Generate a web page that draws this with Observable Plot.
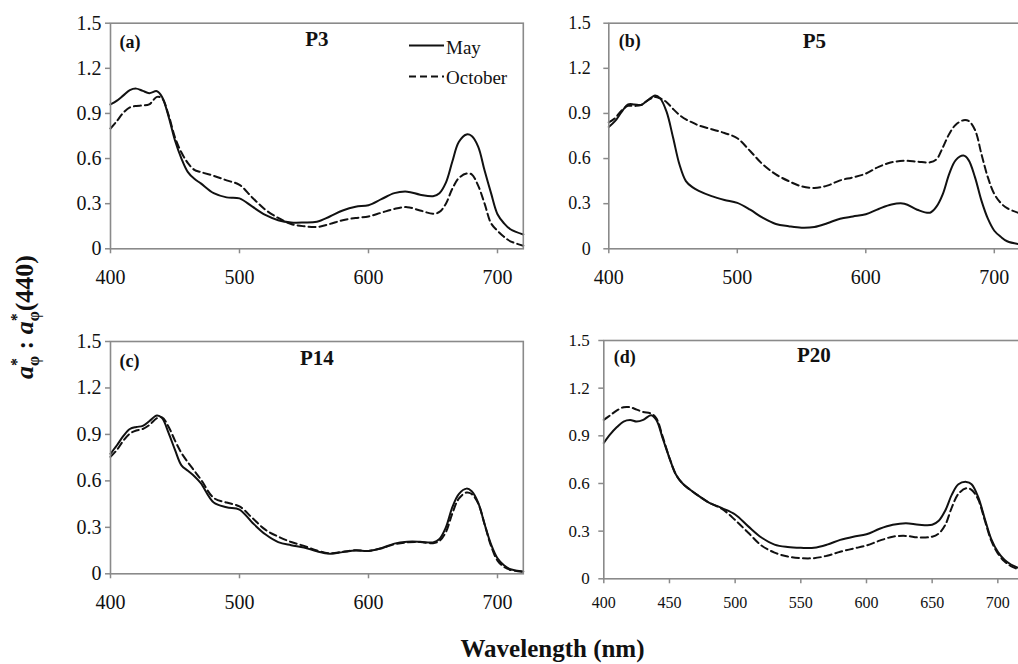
<!DOCTYPE html>
<html><head><meta charset="utf-8">
<script src="https://cdn.jsdelivr.net/npm/d3@7"></script>
<script src="https://cdn.jsdelivr.net/npm/@observablehq/plot@0.6"></script>
<style>
html,body{margin:0;padding:0;background:#fff;}
#root{position:relative;width:1018px;height:664px;overflow:hidden;background:#fff;font-family:"Liberation Serif","Times New Roman",serif;}
.panel{position:absolute;}
.panel svg, .panel svg text{font-family:"Liberation Serif","Times New Roman",serif !important;}
#overlay{position:absolute;left:0;top:0;pointer-events:none;}
</style>
</head><body>
<div id="root"></div>
<script>
// ---- data ----
const wavelength = [400,405,410,415,420,425,430,436,440,445,450,455,460,465,470,480,490,500,510,520,530,540,550,560,570,580,590,600,610,620,630,640,650,655,660,665,670,676,680,685,690,695,700,705,710,720];

const p3May = [0.96,0.985,1.02,1.055,1.065,1.05,1.035,1.048,1.01,0.88,0.72,0.60,0.51,0.465,0.435,0.37,0.342,0.335,0.28,0.225,0.19,0.175,0.175,0.18,0.215,0.255,0.28,0.29,0.33,0.37,0.38,0.36,0.35,0.37,0.44,0.58,0.71,0.76,0.75,0.68,0.52,0.37,0.23,0.17,0.13,0.095];
const p3Oct = [0.80,0.85,0.905,0.94,0.95,0.953,0.96,1.01,1.0,0.89,0.74,0.64,0.57,0.525,0.51,0.485,0.455,0.425,0.34,0.26,0.205,0.165,0.15,0.145,0.165,0.19,0.205,0.215,0.24,0.265,0.277,0.255,0.233,0.245,0.30,0.40,0.47,0.50,0.495,0.42,0.30,0.17,0.12,0.08,0.05,0.02];

const p5May = [0.81,0.85,0.91,0.96,0.96,0.957,0.985,1.02,1.0,0.91,0.74,0.56,0.45,0.41,0.385,0.35,0.325,0.305,0.26,0.205,0.165,0.15,0.14,0.145,0.17,0.20,0.215,0.23,0.265,0.295,0.30,0.26,0.24,0.28,0.365,0.50,0.59,0.62,0.59,0.475,0.32,0.20,0.12,0.08,0.05,0.03];
const p5Oct = [0.84,0.87,0.92,0.95,0.95,0.955,0.985,1.01,1.0,0.975,0.93,0.89,0.86,0.84,0.82,0.795,0.77,0.735,0.65,0.56,0.495,0.45,0.415,0.405,0.42,0.455,0.475,0.50,0.545,0.575,0.585,0.58,0.575,0.595,0.675,0.765,0.825,0.855,0.85,0.79,0.63,0.475,0.365,0.305,0.27,0.235];

const p14May = [0.775,0.83,0.89,0.935,0.948,0.955,0.985,1.022,1.005,0.91,0.80,0.70,0.665,0.63,0.585,0.46,0.43,0.415,0.33,0.255,0.205,0.185,0.17,0.145,0.13,0.14,0.15,0.148,0.165,0.195,0.207,0.207,0.203,0.225,0.30,0.43,0.515,0.55,0.533,0.46,0.32,0.19,0.10,0.055,0.03,0.015];
const p14Oct = [0.755,0.80,0.86,0.905,0.925,0.935,0.96,1.005,1.01,0.95,0.86,0.78,0.72,0.665,0.61,0.49,0.46,0.435,0.36,0.285,0.24,0.205,0.18,0.15,0.132,0.142,0.152,0.148,0.165,0.19,0.203,0.205,0.198,0.212,0.27,0.39,0.485,0.525,0.515,0.455,0.32,0.18,0.085,0.045,0.025,0.012];

const p20May = [0.855,0.91,0.955,0.99,1.0,0.99,1.0,1.03,1.0,0.88,0.76,0.655,0.60,0.565,0.535,0.48,0.445,0.405,0.33,0.26,0.215,0.20,0.195,0.195,0.215,0.245,0.265,0.28,0.315,0.34,0.35,0.34,0.34,0.365,0.43,0.53,0.595,0.61,0.595,0.515,0.38,0.25,0.17,0.12,0.09,0.055];
const p20Oct = [1.0,1.03,1.06,1.08,1.08,1.065,1.05,1.04,1.01,0.89,0.76,0.655,0.60,0.565,0.535,0.48,0.44,0.37,0.29,0.21,0.165,0.14,0.13,0.13,0.145,0.17,0.19,0.21,0.24,0.265,0.27,0.26,0.265,0.285,0.34,0.45,0.535,0.57,0.56,0.50,0.37,0.24,0.16,0.11,0.08,0.045];

const panelCodes = ["(a)","(b)","(c)","(d)"];
const stations = ["P3","P5","P14","P20"];
const seriesNames = ["May","October"];
const yTicks = [0,0.3,0.6,0.9,1.2,1.5];
const yTickLabels = ["0","0.3","0.6","0.9","1.2","1.5"];
const xTicksWide = [400,500,600,700];
const xTicksFine = [400,450,500,550,600,650,700];

// ---- layout (positions/sizes) ----
const layout = [
  {left:0,   top:0,   width:540, height:300, mL:110,  mR:17.2, mT:22.7, mB:51.7, xTicks:xTicksWide, xFont:20, yFont:20, xPad:16,   yPad:4,  codeDx:9,  codeDy:19.5, titleDy:16.5},
  {left:540, top:0,   width:490, height:300, mL:68.3, mR:10.5, mT:22.7, mB:51.7, xTicks:xTicksWide, xFont:20, yFont:18, xPad:16,   yPad:13, codeDx:10, codeDy:18.5, titleDy:18},
  {left:0,   top:300, width:540, height:320, mL:110,  mR:17.2, mT:41,   mB:46.7, xTicks:xTicksWide, xFont:20, yFont:20, xPad:15.5, yPad:4,  codeDx:9,  codeDy:19.5, titleDy:16.5},
  {left:540, top:300, width:490, height:320, mL:63.3, mR:6.4,  mT:40,   mB:41.7, xTicks:xTicksFine, xFont:16, yFont:17, xPad:13,   yPad:9,  codeDx:10, codeDy:16.5, titleDy:15}
];
const mays = [p3May, p5May, p14May, p20May];
const octs = [p3Oct, p5Oct, p14Oct, p20Oct];

const root = document.getElementById("root");
const INK = "#111";
const GRID = "#8a8a8a";
const SERIF = '"Liberation Serif","Times New Roman",serif';

layout.forEach((L, k) => {
  const rows = wavelength.map((w, i) => ({w, may: mays[k][i], oct: octs[k][i]}));
  const chart = Plot.plot({
    width: L.width, height: L.height,
    marginLeft: L.mL, marginRight: L.mR, marginTop: L.mT, marginBottom: L.mB,
    style: {fontFamily: SERIF, background: "transparent", overflow: "visible", maxWidth: "none"},
    x: {domain: [400, 720]},
    y: {domain: [0, 1.5]},
    marks: [
      Plot.line(rows, {x: "w", y: "oct", stroke: INK, strokeWidth: 2, strokeDasharray: "7,4", curve: "catmull-rom"}),
      Plot.line(rows, {x: "w", y: "may", stroke: INK, strokeWidth: 2, curve: "catmull-rom"}),
      Plot.frame({stroke: GRID, strokeWidth: 1.6}),
      Plot.axisX({ticks: L.xTicks, tickFormat: d => String(d), tickSize: 5, tickPadding: L.xPad, fontSize: L.xFont, fontFamily: SERIF, fontVariant: "normal", stroke: GRID, strokeWidth: 1.5, fill: INK, label: null}),
      Plot.axisY({ticks: yTicks, tickFormat: d => yTickLabels[yTicks.indexOf(d)], tickSize: 5, tickPadding: L.yPad, fontSize: L.yFont, fontFamily: SERIF, fontVariant: "normal", stroke: GRID, strokeWidth: 1.5, fill: INK, label: null}),
      Plot.text([panelCodes[k]], {text: d => d, frameAnchor: "top-left", dx: L.codeDx, dy: L.codeDy, fontSize: 18, fontFamily: SERIF, fontWeight: "bold", textAnchor: "start", lineAnchor: "middle", fill: INK}),
      Plot.text([stations[k]], {text: d => d, frameAnchor: "top", dy: L.titleDy, fontSize: 21, fontFamily: SERIF, fontWeight: "bold", lineAnchor: "middle", fill: INK})
    ]
  });
  const div = document.createElement("div");
  div.className = "panel";
  div.style.left = L.left + "px";
  div.style.top = L.top + "px";
  div.style.width = L.width + "px";
  div.style.height = L.height + "px";
  div.appendChild(chart);
  root.appendChild(div);
});

// ---- overlay: legend and axis titles (real text) ----
const NS = "http://www.w3.org/2000/svg";
const ov = document.createElementNS(NS, "svg");
ov.setAttribute("id", "overlay");
ov.setAttribute("width", 1018);
ov.setAttribute("height", 664);
ov.setAttribute("font-family", SERIF);
ov.innerHTML = `
  <line x1="409" y1="45.5" x2="444" y2="45.5" stroke="${INK}" stroke-width="2"/>
  <text x="446" y="53.5" font-size="19" fill="${INK}">${seriesNames[0]}</text>
  <line x1="409" y1="76.5" x2="444" y2="76.5" stroke="${INK}" stroke-width="2" stroke-dasharray="7,4"/>
  <text x="446" y="84" font-size="19" fill="${INK}">${seriesNames[1]}</text>
  <text x="552.5" y="657" text-anchor="middle" font-size="25" font-weight="bold" fill="${INK}">Wavelength (nm)</text>
  <text transform="translate(33,317) rotate(-90)" text-anchor="middle" font-size="26" font-weight="bold" fill="${INK}"><tspan font-style="italic">a</tspan><tspan font-size="16" dy="-11">*</tspan><tspan font-size="16" dx="-8" dy="17">φ</tspan><tspan dy="-6"> : </tspan><tspan font-style="italic">a</tspan><tspan font-size="16" dy="-11">*</tspan><tspan font-size="16" dx="-8" dy="17">φ</tspan><tspan dy="-6">(440)</tspan></text>
`;
root.appendChild(ov);
</script>
</body></html>
